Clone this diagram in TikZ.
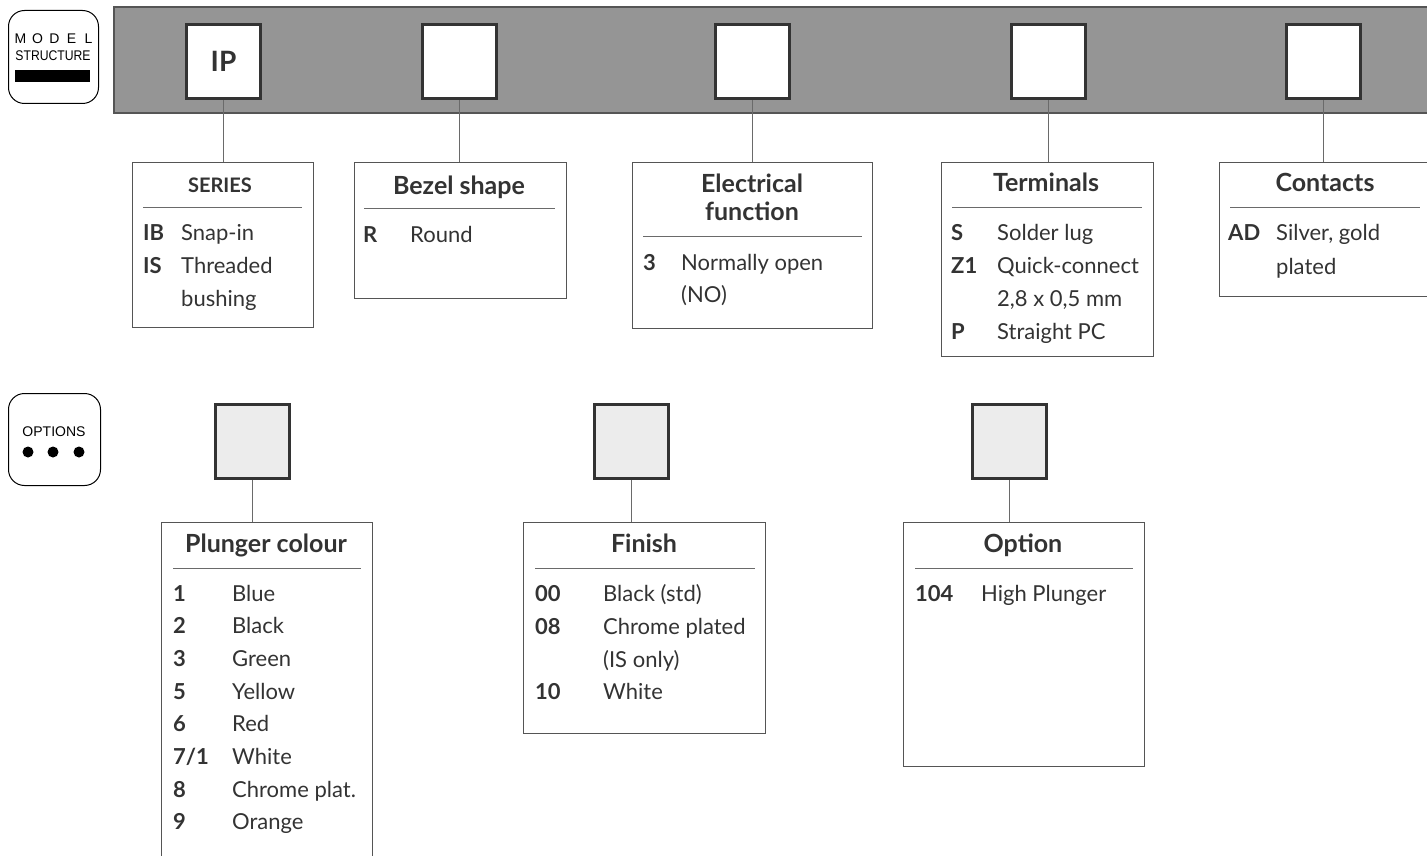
\documentclass[tikz,border=0pt]{standalone}
\usepackage{fontspec}
\setmainfont{Lato}
\newfontfamily\badgefont{Liberation Sans}
\definecolor{bandgray}{HTML}{959595}
\definecolor{boxdark}{HTML}{333333}
\definecolor{linegray}{HTML}{555555}
\definecolor{wiregray}{HTML}{6A6A6A}
\definecolor{slotgray}{HTML}{ECECEC}
\definecolor{txtdark}{HTML}{333333}
\tikzset{
  band/.style={fill=bandgray, draw=linegray, line width=1.3},
  slot/.style={draw=boxdark, line width=3, fill=white, minimum size=74, inner sep=0, anchor=north west},
  optslot/.style={slot, fill=slotgray},
  descbox/.style={draw=linegray, line width=1.2, inner sep=0, anchor=north west},
  wire/.style={draw=wiregray, line width=1.2},
  seprule/.style={draw=wiregray, line width=1},
  boxtitle/.style={anchor=base, inner sep=0, text=boxdark, font=\fontsize{25}{28}\selectfont\bfseries},
  keytxt/.style={anchor=base west, inner sep=0, text=txtdark, font=\fontsize{22}{26}\selectfont\bfseries},
  entrytxt/.style={anchor=base west, inner sep=0, text=txtdark, font=\fontsize{22}{26}\selectfont},
  badge/.style={draw=black, line width=1, rounded corners=16, inner sep=0, anchor=north west},
  badgetxt/.style={font=\badgefont\fontsize{14}{15}\selectfont, inner sep=0},
}
\begin{document}
\begin{tikzpicture}[x=1pt, y=-1pt]
\useasboundingbox (0,0) rectangle (1427,856);

% badges on the left
\node[badge, minimum width=90, minimum height=93] (modelbadge) at (8,10) {};
\foreach \l [count=\i] in {M,O,D,E,L}
  \node[badgetxt] at ({3.5+17*\i},39) {\l};
\node[badgetxt, xscale=0.87, transform shape] at (53,56) {STRUCTURE};
\fill[black] (15,70) rectangle (90,82);

\node[badge, minimum width=92, minimum height=92] (optbadge) at (8,393) {};
\node[badgetxt] at (54,432) {OPTIONS};
\foreach \x in {28,53,79}
  \fill[black] (\x,452) circle (5.5);

% model structure band
\draw[band] (1430,7) -- (114,7) -- (114,113) -- (1430,113);
\node[slot] (ser) at (185,23) {\fontsize{28}{30}\selectfont\bfseries\color{boxdark}IP};
\node[slot] (bez) at (421,23) {};
\node[slot] (ele) at (714,23) {};
\node[slot] (ter) at (1010,23) {};
\node[slot] (con) at (1285,23) {};

\node[descbox, minimum width=181, minimum height=165] (series) at (132,162) {};
\node[descbox, minimum width=212, minimum height=136] (bezel) at (354,162) {};
\node[descbox, minimum width=240, minimum height=166] (elec) at (632,162) {};
\node[descbox, minimum width=212, minimum height=194] (term) at (941,162) {};
\node[descbox, minimum width=208, minimum height=134] (cont) at (1219,162) {};

\draw[wire] (ser.south) -- (ser.south |- series.north);
\draw[wire] (bez.south) -- (bez.south |- bezel.north);
\draw[wire] (ele.south) -- (ele.south |- elec.north);
\draw[wire] (ter.south) -- (ter.south |- term.north);
\draw[wire] (con.south) -- (con.south |- cont.north);

% series
\node[boxtitle, font=\fontsize{20}{24}\selectfont\bfseries] at (220,192) {SERIES};
\draw[seprule] (143,207) -- (302,207);
\node[keytxt] at (143,240) {IB};
\node[entrytxt] at (181,240) {Snap-in};
\node[keytxt] at (143,273) {IS};
\node[entrytxt] at (181,273) {Threaded};
\node[entrytxt] at (181,306) {bushing};

% bezel
\node[boxtitle] at (459,194) {Bezel shape};
\draw[seprule] (364,208) -- (555,208);
\node[keytxt] at (363,242) {R};
\node[entrytxt] at (410,242) {Round};

% electrical function
\node[boxtitle] at (752,192) {Electrical};
\node[boxtitle] at (752,220) {function};
\draw[seprule] (643,236) -- (862,236);
\node[keytxt] at (643,270) {3};
\node[entrytxt] at (681,270) {Normally open};
\node[entrytxt] at (681,302) {(NO)};

% terminals
\node[boxtitle] at (1046,191) {Terminals};
\draw[seprule] (952,207) -- (1142,207);
\node[keytxt] at (951,240) {S};
\node[entrytxt] at (997,240) {Solder lug};
\node[keytxt] at (951,273) {Z1};
\node[entrytxt] at (997,273) {Quick-connect};
\node[entrytxt] at (997,306) {2,8 x 0,5 mm};
\node[keytxt] at (951,339) {P};
\node[entrytxt] at (997,339) {Straight PC};

% contacts
\node[boxtitle] at (1325,191) {Contacts};
\draw[seprule] (1230,207) -- (1420,207);
\node[keytxt] at (1228,240) {AD};
\node[entrytxt] at (1276,240) {Silver, gold};
\node[entrytxt] at (1276,274) {plated};

% options
\node[optslot] (pc) at (214,403) {};
\node[optslot] (fin) at (593,403) {};
\node[optslot] (opt) at (971,403) {};

\node[descbox, minimum width=211, minimum height=350] (plunger) at (161,522) {};
\node[descbox, minimum width=242, minimum height=211] (finish) at (523,522) {};
\node[descbox, minimum width=241, minimum height=244] (option) at (903,522) {};

\draw[wire] (pc.south) -- (pc.south |- plunger.north);
\draw[wire] (fin.south) -- (fin.south |- finish.north);
\draw[wire] (opt.south) -- (opt.south |- option.north);

% plunger colour
\node[boxtitle] at (266,552) {Plunger colour};
\draw[seprule] (173,568) -- (361,568);
\foreach \k/\v [count=\i] in {1/Blue, 2/Black, 3/Green, 5/Yellow, 6/Red, {7/1}/White, 8/Chrome plat., 9/Orange}{
  \node[keytxt] at (173,{601+32.7*(\i-1)}) {\k};
  \node[entrytxt] at (232,{601+32.7*(\i-1)}) {\v};
}

% finish
\node[boxtitle] at (644,552) {Finish};
\draw[seprule] (535,568) -- (755,568);
\node[keytxt] at (535,601) {00};
\node[entrytxt] at (603,601) {Black (std)};
\node[keytxt] at (535,634) {08};
\node[entrytxt] at (603,634) {Chrome plated};
\node[entrytxt] at (603,667) {(IS only)};
\node[keytxt] at (535,699) {10};
\node[entrytxt] at (603,699) {White};

% option
\node[boxtitle] at (1023,552) {Option};
\draw[seprule] (915,568) -- (1133,568);
\node[keytxt] at (915,601) {104};
\node[entrytxt] at (981,601) {High Plunger};

\end{tikzpicture}
\end{document}
